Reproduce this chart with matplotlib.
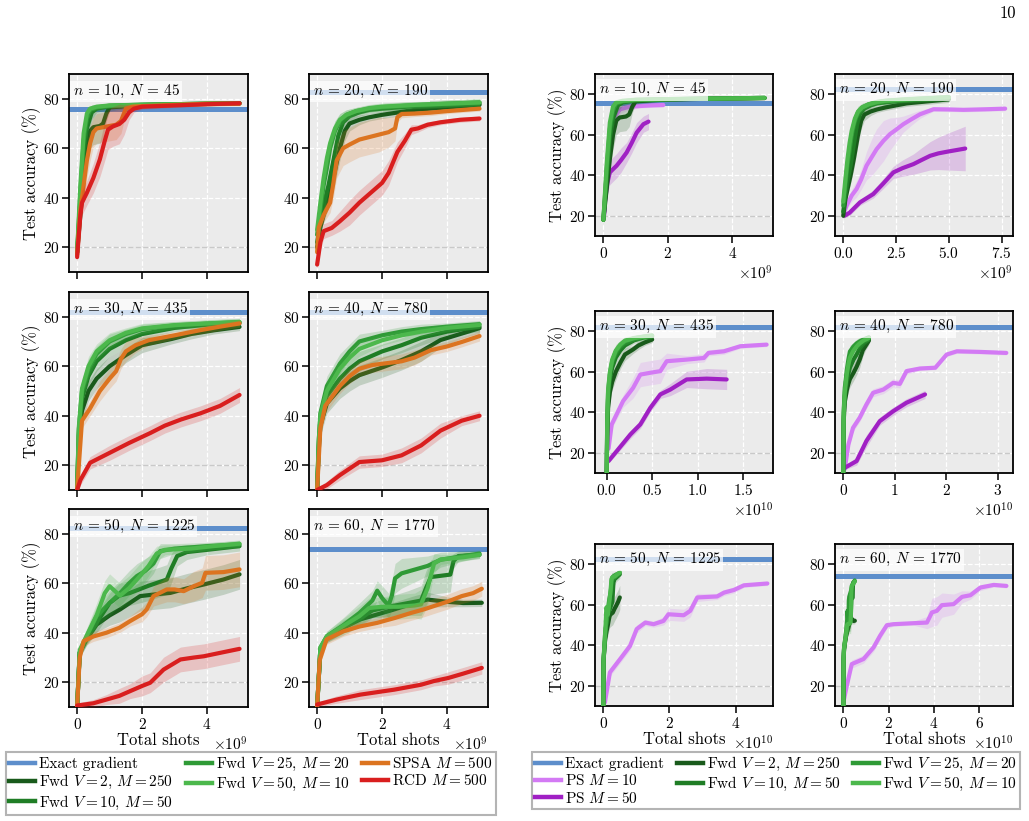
import numpy as np
import matplotlib
matplotlib.use("Agg")
import matplotlib.pyplot as plt
from matplotlib.lines import Line2D
from matplotlib.ticker import FixedLocator

# ------------------------------------------------------------------ data
N_QUBITS = [10, 20, 30, 40, 50, 60]
N_PARAMS = [45, 190, 435, 780, 1225, 1770]
EXACT_ACC = [75.9, 82.7, 82.0, 82.0, 82.4, 74.0]
SHOT_UNIT = 1e9  # x values below are total shots in units of 1e9
# each curve: (total shots / 1e9, test accuracy %, band half-width %)

N10_FWD2 = [(0,18,2),(0.1,33,4),(0.2,48,6),(0.3,60,7),(0.4,67,7),(0.5,68.5,7),(0.7,69,7),(0.8,70,6),(0.9,74,3),(1.0,76.5,1.5),(1.5,77,1),(2,77.4,0.8),(3,77.7,0.8),(4,77.9,0.8),(5,78.1,0.8)]
N10_FWD10 = [(0,18,2),(0.1,38,5),(0.2,58,6),(0.3,68,5),(0.45,74.5,3),(0.6,76,1.5),(1,77,1),(2,77.5,0.8),(3,77.8,0.8),(4,78,0.8),(5,78.2,0.8)]
N10_FWD25 = [(0,18,2),(0.1,42,5),(0.2,63,5),(0.3,72,3),(0.4,75.5,1.5),(0.6,76.5,1),(1,77.2,1),(2,77.6,0.8),(3,77.8,0.8),(4,78,0.8),(5,78.2,0.8)]
N10_FWD50 = [(0,18,2),(0.1,45,5),(0.2,66,5),(0.3,74,2.5),(0.4,76,1.2),(0.6,76.8,1),(1,77.3,1),(2,77.6,0.8),(3,77.8,0.8),(4,78,0.8),(5,78.2,0.8)]
N10_SPSA = [(0,17,2),(0.1,35,4),(0.2,45,6),(0.3,55,7),(0.4,62,7),(0.5,66.5,6),(0.6,68,6),(0.8,68.5,6),(1.0,69,6),(1.2,69.5,6),(1.35,71,5),(1.5,76,2),(1.7,76.8,1),(2,77,1),(3,77.5,0.8),(4,78,0.8),(5,78,0.8)]
N10_RCD = [(0,16,2),(0.1,33,4),(0.15,38,5),(0.3,42,5),(0.5,48,6),(0.7,55.5,7),(0.85,63,8),(0.95,67.5,8),(1.1,68.8,8),(1.3,69.8,8),(1.45,71.5,6),(1.6,74.5,3),(1.75,76,1.5),(2,76.8,1),(3,77.3,0.8),(4,77.8,0.8),(5,78.2,0.8)]
N10_PS10 = [(0.03,22,3),(0.1,42,5),(0.2,58,6),(0.26,64.4,5),(0.36,69.3,4),(0.52,72.6,2),(0.8,73.8,1.5),(1.14,74.2,1),(1.5,74.5,1),(1.86,74.7,1)]
N10_PS50 = [(0.02,20,3),(0.05,27,4),(0.12,36,5),(0.2,41.4,6),(0.3,43,6),(0.41,44.7,6),(0.55,47.5,6),(0.72,51.2,5),(0.88,56,5),(1.03,61,5),(1.24,65.2,4),(1.4,66.5,4)]

N20_FWD2 = [(0,20,3),(0.1,28,3),(0.2,33,3),(0.35,40,4),(0.5,48,5),(0.7,60,5),(0.85,67,4),(1.0,70,3),(1.3,71.5,2),(1.6,72.5,1.5),(2,73.5,1.5),(3,75.5,1.5),(4,76.5,1.5),(5,77.5,1.5)]
N20_FWD10 = [(0,22,3),(0.1,30,3),(0.2,37,4),(0.35,45,5),(0.5,55,5),(0.65,65,4),(0.8,70.5,3),(1,73,2),(1.3,74.5,1.5),(1.6,75.5,1.5),(2,76,1.5),(3,77,1.5),(4,77.5,1.5),(5,78,1.5)]
N20_FWD25 = [(0,25,3),(0.1,35,4),(0.2,45,5),(0.3,52,5),(0.4,60,5),(0.55,67,4),(0.7,71,3),(0.9,73.5,2),(1.2,75,1.5),(1.6,76,1.5),(2,76.6,1.5),(3,77.4,1.5),(4,78,1.5),(5,78.5,1.5)]
N20_FWD50 = [(0,27,3),(0.1,38,4),(0.2,48,5),(0.3,56,5),(0.4,62,4),(0.55,68,3),(0.7,71.5,2.5),(0.9,73.5,2),(1.2,75,1.5),(1.6,76.2,1.5),(2,76.8,1.5),(3,77.5,1.5),(4,78,1.5),(5,78.5,1.5)]
N20_SPSA = [(0,18,3),(0.05,28,3),(0.2,33,3),(0.4,38,4),(0.5,46,6),(0.6,55,7),(0.8,60,7),(1.0,61.5,7),(1.3,63.5,7),(1.6,64.5,7),(1.9,65.5,7),(2.2,66.5,6),(2.4,68,5),(2.47,72.5,2),(2.6,73.8,1.5),(3.0,74,1.2),(3.5,74.4,1.2),(4,75,1),(4.5,75.5,1),(5,76,1)]
N20_RCD = [(0,13,2),(0.1,22,3),(0.2,26.5,3),(0.45,27.8,3),(0.7,30.5,4),(1.0,34,5),(1.3,38,5),(1.65,42,5),(2.0,46,5),(2.2,50,5),(2.47,58.5,4),(2.7,63,3),(2.9,67.5,2),(3.1,68,1.5),(3.4,69.5,1.2),(3.8,70.5,1),(4.4,71.5,1),(5,72,1)]
N20_PS10 = [(0.05,22,2),(0.16,25,2),(0.4,30,3),(0.63,33.2,4),(0.85,38,5),(1.1,44.7,7),(1.35,49,9),(1.58,52.9,10),(1.9,57,10),(2.21,60.3,8),(2.5,62.5,6),(2.84,65.2,4),(3.2,67.5,3),(3.63,70.1,2),(4.27,72.6,1),(5,72.5,1),(5.69,72.3,1),(6.79,72.6,1),(7.66,72.9,1)]
N20_PS50 = [(0.05,20,1),(0.3,21.5,1.5),(0.79,26.6,1.5),(1.42,30.7,2),(1.9,36,2.5),(2.37,41.4,3),(2.8,43.5,4),(3.32,45.5,5),(3.7,47.5,6),(4.11,49.6,7),(4.5,50.8,8),(4.9,51.6,9),(5.77,53.2,11)]

N30_FWD2 = [(0,10,1),(0.05,28,3),(0.15,42,4),(0.35,50,4),(0.6,55,4),(1.0,60,4),(1.5,64.5,3),(2.0,68.5,3),(2.9,71,2),(3.5,73,2),(4.2,74.5,1.5),(5,75.9,1.5)]
N30_FWD10 = [(0,10,1),(0.05,32,3),(0.15,47,4),(0.35,56,4),(0.6,62,4),(1.0,67,3),(1.5,70.5,3),(2.0,73,2),(3,75.5,1.5),(4,76.8,1.5),(5,77.4,1.5)]
N30_FWD25 = [(0,10,1),(0.05,34,3),(0.15,50,4),(0.35,59,4),(0.6,65,3),(1.0,70,3),(1.5,73,2),(2.0,75,2),(3,76.5,1.5),(4,77.2,1.5),(5,77.8,1.5)]
N30_FWD50 = [(0,10,1),(0.05,35,3),(0.15,51,4),(0.35,60,4),(0.6,66,3),(1.0,70.5,3),(1.5,73.5,2),(2.0,75.3,2),(3,76.6,1.5),(4,77.3,1.5),(5,77.9,1.5)]
N30_SPSA = [(0,10,1),(0.15,38,3),(0.4,43,3),(0.7,50,4),(1.0,55,4),(1.2,58,4),(1.35,63,4),(1.5,66,4),(1.8,68.5,3),(2.2,70.5,2),(3,72.5,1.5),(3.8,74.6,1.5),(4.4,76,1.5),(5,77.3,1.5)]
N30_RCD = [(0,10,1),(0.1,14,2),(0.4,21,2.5),(1.0,25,3),(1.6,29,3),(2.25,33,3),(2.7,36,3),(3.2,38.5,3),(3.8,41,3),(4.4,44,3),(5.0,48.4,3)]
N30_PS10 = [(0.2,22,2),(0.55,34,2),(1.8,45.5,3),(2.9,52,5),(3.7,58.6,6),(4.8,59.5,6),(5.9,60.3,6),(6.6,65.2,4),(8.8,66,2),(10.7,66.8,2),(11.2,69.3,1.5),(12.9,70.1,1.5),(14.7,72.6,1),(17.6,73.4,1)]
N30_PS50 = [(0.2,15.9,1),(1.1,20.8,1.5),(2.6,29,2),(3.7,34,2),(4.8,42.2,2),(5.9,48.8,2),(7.0,51.2,3),(8.8,56.2,4),(11.0,56.6,5),(13.2,56.2,5)]

N40_FWD2 = [(0,10,1),(0.05,26,3),(0.1,36,4),(0.3,45,4),(0.7,51,4),(1.0,54,4),(1.3,56.4,4),(2.0,59.5,4),(2.6,62.5,4),(3.2,66,4),(3.8,70.6,3),(4.4,73,2),(5,75.4,2)]
N40_FWD10 = [(0,10,1),(0.05,28,3),(0.1,38,4),(0.3,48,4),(0.7,55,4),(1.0,59,4),(1.3,62,4),(2.0,66,3),(2.6,68.5,3),(3.2,71.5,3),(4,74,2),(5,76,2)]
N40_FWD25 = [(0,10,1),(0.05,30,3),(0.1,41,4),(0.3,52,4),(0.7,61,4),(1.0,66,3),(1.3,70,3),(2.0,72.5,2),(2.6,74,2),(3.2,75,2),(4,76,1.5),(5,77,1.5)]
N40_FWD50 = [(0,10,1),(0.05,30,3),(0.1,40,4),(0.3,50,4),(0.7,59,4),(1.0,63.5,3),(1.3,67,3),(2.0,70.5,2),(2.6,72.5,2),(3.2,74,2),(4,75.5,1.5),(5,76.7,1.5)]
N40_SPSA = [(0,10,1),(0.1,35,3),(0.25,44,3),(0.7,52,3),(1.0,56,3),(1.3,59,3),(1.7,60.5,3),(2.6,62,3),(3.0,63.5,3),(3.5,66.5,2),(4.0,68,2),(4.45,69.8,2),(5.0,72.2,2)]
N40_RCD = [(0,10,1),(0.3,12,1.5),(0.7,16,2),(1.3,21.3,2.5),(2.0,22,2.5),(2.6,24,3),(3.2,28,3),(3.5,31,3),(3.8,34,3),(4.45,38,2),(5.0,40,2)]
N40_PS10 = [(0.3,12,1),(1.0,24,2),(1.9,32.3,2),(3.2,37.3,2),(4.5,43.8,2),(5.8,49.6,2),(7.8,51.2,2),(9.7,54.5,2),(11.0,54,2),(12.3,60.3,1.5),(14.9,61.6,1),(17.9,62,1),(20.1,68.5,1),(22.1,70.1,1),(26.6,69.8,1),(31.7,69.3,1)]
N40_PS50 = [(0.3,12.6,1),(2.6,15.9,2),(4.5,25.8,3),(7.1,35.6,2),(9.7,40.5,2),(12.3,44.7,2),(15.9,48.8,2)]

N50_FWD2 = [(0,10,1),(0.08,32,2),(0.3,37.5,2),(0.6,43.3,3),(1.0,47,4),(1.32,49.4,5),(1.94,54.8,6),(2.4,55.5,6),(2.87,56.1,6),(3.4,58,6),(3.9,59.5,6),(4.5,61.5,6),(5.0,63.6,6)]
N50_FWD10 = [(0,10,1),(0.08,32,2),(0.3,38,3),(0.6,44,4),(1.0,52,4),(1.3,55,5),(1.63,56.1,5),(2.2,59,6),(2.76,61.5,6),(2.9,66,6),(3.08,71,4),(3.38,72.6,3),(4,73.5,2),(5,75,2)]
N50_FWD25 = [(0,10,1),(0.08,32,2),(0.3,38.5,3),(0.6,46.7,4),(1.0,52,5),(1.32,56,5),(1.6,60,5),(1.84,62.9,5),(2.1,65,5),(2.35,68,4),(2.56,73,3),(3,74,2),(4,75,1.5),(5,75.7,1.5)]
N50_FWD50 = [(0,10,1),(0.08,33,2),(0.3,39,3),(0.6,47,5),(0.85,56,5),(1.0,58.8,5),(1.15,57,5),(1.32,55,5),(1.6,58,5),(1.94,63,5),(2.2,67,4),(2.45,72,3),(2.7,73.5,2),(3.5,74,1.5),(4.2,75,1.5),(5,76,1.5)]
N50_SPSA = [(0,10,1),(0.08,30,2),(0.2,36.6,2),(0.5,38.5,2),(0.9,40,2),(1.3,42,2),(1.63,44.7,2),(2.0,47.5,3),(2.14,49.4,3),(2.35,54.8,4),(2.76,57.5,5),(3.0,57.5,5),(3.28,56.8,5),(3.59,58.8,6),(3.85,60.2,6),(3.95,64.2,7),(4.5,64.5,7),(5.0,65.6,7)]
N50_RCD = [(0,10.6,1),(0.5,11.5,1.5),(0.9,13,2),(1.3,14.5,3),(1.63,16.4,3),(2.0,18.5,4),(2.25,19.8,4),(2.66,25.1,5),(3.18,29.2,5),(3.6,30,5),(3.9,30.5,5),(4.41,31.9,5),(5.0,33.5,5)]
N50_PS10 = [(0.5,11.8,1),(2.0,26.6,2),(5.1,33.2,2),(8.1,39.7,2),(10.1,48,2),(12.7,51.2,1.5),(15.2,50.4,1.5),(18.2,52,2),(19.7,55.3,3),(24.3,54.8,3),(26.3,57,3),(28.4,63.6,2),(34.4,64.1,1.5),(36.5,66,1.5),(39.5,67.3,1.5),(42.5,69.6,1),(49.6,70.5,1)]

N60_FWD2 = [(0,10,1),(0.1,33,2),(0.3,38,2),(0.8,42,2),(1.33,45.4,3),(2.37,49.4,3),(3.0,52,3),(3.4,53.4,3),(4.0,52.5,2),(4.5,52,1.5),(5.07,52.1,1.5)]
N60_FWD10 = [(0,10,1),(0.1,33,2),(0.3,38,2),(0.8,42,3),(1.3,45.5,3),(1.7,49,3),(2.2,50.5,4),(2.8,52,5),(3.2,53,6),(3.35,58,7),(3.5,62.5,7),(4.1,63.5,7),(4.2,69,3),(4.35,71,2),(5,71.5,1.5)]
N60_FWD25 = [(0,10,1),(0.1,34,2),(0.3,38.6,2),(0.8,43,3),(1.3,48,4),(1.7,53,4),(1.85,57,4),(2.0,54,5),(2.2,51,5),(2.3,55,6),(2.4,62,6),(2.6,64,6),(3.0,65.5,5),(3.4,67,4),(3.8,69.5,3),(4.5,71,2),(5.0,72,1.5)]
N60_FWD50 = [(0,10,1),(0.1,34,2),(0.3,38.6,2),(0.8,42.7,3),(1.3,46.7,4),(1.6,50,4),(2.0,50.5,4),(2.5,50.5,5),(3.0,51,5),(3.2,51.5,6),(3.4,58,7),(3.6,68,4),(3.8,69.6,2),(4.5,70.5,1.5),(5.0,71.5,1.5)]
N60_SPSA = [(0,10,1),(0.08,29,2),(0.29,37.3,2),(0.81,40.6,2),(1.3,42.5,2),(1.85,44,2),(2.4,46,3),(2.89,48,3),(3.3,49.5,3),(3.6,50.8,3),(4.0,52.5,3),(4.45,54.8,3),(4.8,56,3),(5.07,57.8,3)]
N60_RCD = [(0,11,1),(0.6,13,1.5),(1.33,15,2),(2.37,17,2),(3.2,19,2),(3.6,20.5,2),(4.03,21.7,2.5),(4.5,23.5,2.5),(5.07,25.8,2.5)]
N60_PS10 = [(0,11.8,1),(1.5,20,2),(3.7,30.7,2),(8.9,33.2,2),(13.3,38.9,2),(16.2,44.7,2),(19.2,49.9,1.5),(22.1,50.4,1),(31,50.9,1),(36.9,51.2,3),(39.1,56.2,7),(41.3,57,7),(43.5,59.8,6),(48.7,60.3,5),(52.4,63.9,3),(56.1,64.7,2),(60.5,68.5,1.5),(66.4,69.8,1),(72,69.3,1)]

LEFT_XTICKS = [0, 2, 4]
RIGHT_XTICKS = [[0, 2, 4], [0, 2.5, 5.0, 7.5], [0, 5, 10, 15], [0, 10, 20, 30], [0, 20, 40], [0, 20, 40, 60]]
RIGHT_XLIM = [(-0.26, 5.26), (-0.39, 8.03), (-1.29, 18.3), (-1.6, 33.0), (-2.5, 51.3), (-3.7, 74.9)]
LEFT_XLIM = (-0.25, 5.26)

# ------------------------------------------------------------------ styles
C_EXACT = "#5d8ecb"
C_FWD2 = "#195a1b"
C_FWD10 = "#1f7d25"
C_FWD25 = "#2f9a36"
C_FWD50 = "#4cb84c"
C_SPSA = "#dc7420"
C_RCD = "#d91e1e"
C_PS10 = "#d37af4"
C_PS50 = "#a020c4"

L_EXACT = "Exact gradient"
L_FWD2 = r"Fwd $V=2$, $M=250$"
L_FWD10 = r"Fwd $V=10$, $M=50$"
L_FWD25 = r"Fwd $V=25$, $M=20$"
L_FWD50 = r"Fwd $V=50$, $M=10$"
L_SPSA = r"SPSA $M=500$"
L_RCD = r"RCD $M=500$"
L_PS10 = r"PS $M=10$"
L_PS50 = r"PS $M=50$"

FWD = {10: [N10_FWD2, N10_FWD10, N10_FWD25, N10_FWD50],
       20: [N20_FWD2, N20_FWD10, N20_FWD25, N20_FWD50],
       30: [N30_FWD2, N30_FWD10, N30_FWD25, N30_FWD50],
       40: [N40_FWD2, N40_FWD10, N40_FWD25, N40_FWD50],
       50: [N50_FWD2, N50_FWD10, N50_FWD25, N50_FWD50],
       60: [N60_FWD2, N60_FWD10, N60_FWD25, N60_FWD50]}
SPSA = {10: N10_SPSA, 20: N20_SPSA, 30: N30_SPSA, 40: N40_SPSA, 50: N50_SPSA, 60: N60_SPSA}
RCD = {10: N10_RCD, 20: N20_RCD, 30: N30_RCD, 40: N40_RCD, 50: N50_RCD, 60: N60_RCD}
PS10 = {10: N10_PS10, 20: N20_PS10, 30: N30_PS10, 40: N40_PS10, 50: N50_PS10, 60: N60_PS10}
PS50 = {10: N10_PS50, 20: N20_PS50, 30: N30_PS50, 40: N40_PS50}
FWD_COLORS = [C_FWD2, C_FWD10, C_FWD25, C_FWD50]

plt.rcParams.update({
    "font.family": "serif",
    "font.serif": ["cmr10"],
    "mathtext.fontset": "cm",
    "axes.formatter.use_mathtext": True,
    "axes.unicode_minus": False,
    "font.size": 11,
})

W, H = 1029, 821
fig = plt.figure(figsize=(W / 100, H / 100), dpi=100)


def add_ax(l, t, w, h):
    return fig.add_axes([l / W, 1 - (t + h) / H, w / W, h / H])


def style(ax):
    ax.set_facecolor("#EBEBEB")
    for s in ax.spines.values():
        s.set_color("black")
        s.set_linewidth(1.3)
    ax.set_axisbelow(True)
    ax.grid(True, color="white", ls="--", lw=0.9)
    ax.axhline(20, color="#c9c9c9", ls="--", lw=1.0, zorder=1)
    ax.set_ylim(10, 90)
    ax.yaxis.set_major_locator(FixedLocator([20, 40, 60, 80]))
    ax.tick_params(direction="out", length=5, width=1.1, labelsize=11, pad=2)
    ax.ticklabel_format(axis="x", style="sci", scilimits=(0, 0), useMathText=True)
    ax.xaxis.get_offset_text().set_fontsize(11)


def draw(ax, curve, color, z):
    x = np.array([p[0] for p in curve]) * SHOT_UNIT
    y = np.array([p[1] for p in curve])
    s = np.array([p[2] for p in curve])
    ax.fill_between(x, y - s, y + s, color=color, alpha=0.2, lw=0, zorder=z)
    ax.plot(x, y, color=color, lw=3.0, zorder=z + 0.1, solid_capstyle="round")


def label(ax, i):
    ax.text(0.02, 0.955, r"$n\,=\,%d,\;N\,=\,%d$" % (N_QUBITS[i], N_PARAMS[i]),
            transform=ax.transAxes, ha="left", va="top", fontsize=11, zorder=5,
            bbox=dict(boxstyle="square,pad=0.15", fc="white", ec="none", alpha=0.72))


# left block
LCOL = [69, 309]
LROW = [74, 292, 509]
for i, n in enumerate(N_QUBITS):
    r, c = divmod(i, 2)
    ax = add_ax(LCOL[c], LROW[r], 179, 198)
    style(ax)
    ax.axhline(EXACT_ACC[i], color=C_EXACT, lw=3.6, zorder=1.5)
    for k, cur in enumerate(FWD[n]):
        draw(ax, cur, FWD_COLORS[k], 2 + k * 0.2)
    draw(ax, SPSA[n], C_SPSA, 3)
    draw(ax, RCD[n], C_RCD, 3.2)
    ax.set_xlim(LEFT_XLIM[0] * SHOT_UNIT, LEFT_XLIM[1] * SHOT_UNIT)
    ax.xaxis.set_major_locator(FixedLocator([t * SHOT_UNIT for t in LEFT_XTICKS]))
    label(ax, i)
    if c == 0:
        ax.set_ylabel("Test accuracy (%)", fontsize=12, labelpad=1)
    if r < 2:
        ax.tick_params(labelbottom=False)
        ax.xaxis.get_offset_text().set_visible(False)
    else:
        ax.set_xlabel("Total shots", fontsize=12, labelpad=1)

# right block
RCOL = [595, 835]
RROW = [74, 311, 544]
for i, n in enumerate(N_QUBITS):
    r, c = divmod(i, 2)
    ax = add_ax(RCOL[c], RROW[r], 178, 162)
    style(ax)
    ax.axhline(EXACT_ACC[i], color=C_EXACT, lw=3.6, zorder=1.5)
    draw(ax, PS10[n], C_PS10, 2)
    if n in PS50:
        draw(ax, PS50[n], C_PS50, 2.2)
    for k, cur in enumerate(FWD[n]):
        draw(ax, cur, FWD_COLORS[k], 3 + k * 0.2)
    lo, hi = RIGHT_XLIM[i]
    ax.set_xlim(lo * SHOT_UNIT, hi * SHOT_UNIT)
    ax.xaxis.set_major_locator(FixedLocator([t * SHOT_UNIT for t in RIGHT_XTICKS[i]]))
    label(ax, i)
    if c == 0:
        ax.set_ylabel("Test accuracy (%)", fontsize=12, labelpad=1)
    if r == 2:
        ax.set_xlabel("Total shots", fontsize=12, labelpad=1)


def handle(color):
    return Line2D([], [], color=color, lw=3.2)


left_h = [handle(C) for C in [C_EXACT, C_FWD2, C_FWD10, C_FWD25, C_FWD50, C_SPSA, C_RCD]]
left_l = [L_EXACT, L_FWD2, L_FWD10, L_FWD25, L_FWD50, L_SPSA, L_RCD]
right_h = [handle(C) for C in [C_EXACT, C_PS10, C_PS50, C_FWD2, C_FWD10, C_FWD25, C_FWD50]]
right_l = [L_EXACT, L_PS10, L_PS50, L_FWD2, L_FWD10, L_FWD25, L_FWD50]

for hs, ls, x0 in [(left_h, left_l, 6), (right_h, right_l, 532)]:
    leg = fig.legend(hs, ls, ncol=3, loc="upper left",
                     bbox_to_anchor=(x0 / W, 1 - 752 / H),
                     fontsize=11, frameon=True, fancybox=False, framealpha=1,
                     edgecolor="#b4b4b4", handlelength=1.7, handletextpad=0.28,
                     labelspacing=0.15, borderpad=0.2, borderaxespad=0,
                     columnspacing=0.8)
    leg.get_frame().set_linewidth(1.5)

fig.text(1008 / W, 1 - 13 / H, "10", fontsize=12, ha="center", va="center")

fig.savefig("out.png", dpi=100)
